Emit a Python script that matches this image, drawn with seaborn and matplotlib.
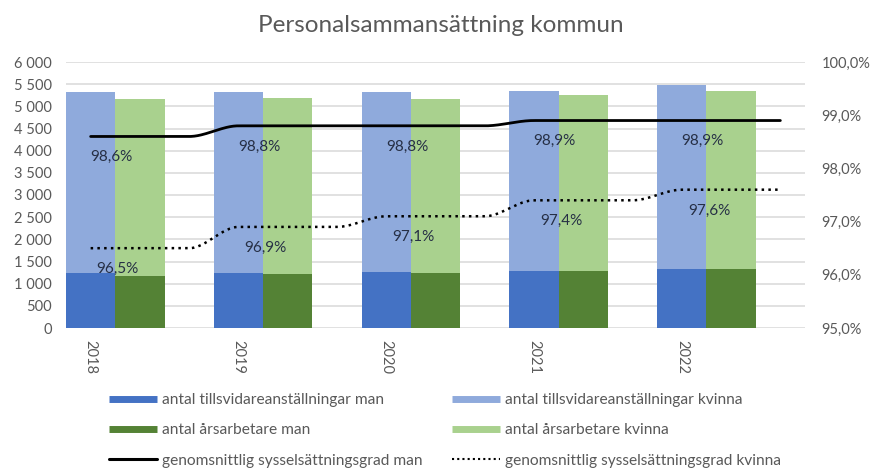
import numpy as np
import pandas as pd
import matplotlib
matplotlib.use("Agg")
import matplotlib.pyplot as plt
from matplotlib.lines import Line2D
from matplotlib.ticker import FuncFormatter, MultipleLocator
import seaborn as sns

# --- data -------------------------------------------------------------
years = ["2018", "2019", "2020", "2021", "2022"]
tillsvidare_man = [1240, 1250, 1255, 1295, 1340]
tillsvidare_kvinna = [4090, 4080, 4060, 4060, 4140]
arsarbetare_man = [1175, 1215, 1235, 1280, 1325]
arsarbetare_kvinna = [3990, 3980, 3940, 3970, 4020]
grad_man = [98.6, 98.8, 98.8, 98.9, 98.9]
grad_kvinna = [96.5, 96.9, 97.1, 97.4, 97.6]

labels = {
    "tv_man": "antal tillsvidareanställningar man",
    "tv_kv": "antal tillsvidareanställningar kvinna",
    "aa_man": "antal årsarbetare man",
    "aa_kv": "antal årsarbetare kvinna",
    "g_man": "genomsnittlig sysselsättningsgrad man",
    "g_kv": "genomsnittlig sysselsättningsgrad kvinna",
}

C_TV_MAN = "#4472C4"
C_TV_KV = "#8FAADC"
C_AA_MAN = "#548235"
C_AA_KV = "#A9D18E"
C_TEXT = "#595959"
C_LABEL = "#262F45"
C_GRID = "#D9D9D9"

sns.set_theme(style="white")
plt.rcParams["font.family"] = ["Lato", "DejaVu Sans"]

# each year occupies three slots: tillsvidare bar, årsarbetare bar, gap
n = len(years)
slot = 3
pos_tv = np.arange(n) * slot
pos_aa = pos_tv + 1

df = pd.DataFrame({
    "pos_tv": pos_tv,
    "pos_aa": pos_aa,
    "tv_man": tillsvidare_man,
    "tv_total": np.add(tillsvidare_man, tillsvidare_kvinna),
    "aa_man": arsarbetare_man,
    "aa_total": np.add(arsarbetare_man, arsarbetare_kvinna),
})

fig = plt.figure(figsize=(8.71, 4.72), dpi=100)
ax = fig.add_axes([66 / 871, 1 - 328 / 472, (805 - 66) / 871, (328 - 62) / 472])

common = dict(native_scale=True, width=1 / slot, saturation=1, linewidth=0,
              errorbar=None, ax=ax)
sns.barplot(data=df, x="pos_tv", y="tv_total", color=C_TV_KV, **common)
sns.barplot(data=df, x="pos_tv", y="tv_man", color=C_TV_MAN, **common)
sns.barplot(data=df, x="pos_aa", y="aa_total", color=C_AA_KV, **common)
sns.barplot(data=df, x="pos_aa", y="aa_man", color=C_AA_MAN, **common)

ax.set_xlim(-0.5, n * slot - 0.5)
ax.set_ylim(0, 6000)
ax.yaxis.set_major_locator(MultipleLocator(500))
ax.yaxis.set_major_formatter(FuncFormatter(lambda v, p: f"{int(v):,}".replace(",", " ")))
ax.set_xticks(pos_tv)
ax.set_xticklabels(years, rotation=-90, ha="center", va="top")
ax.set_xlabel("")
ax.set_ylabel("")
ax.grid(axis="y", color=C_GRID, linewidth=1.1)
ax.set_axisbelow(True)
for s in ax.spines.values():
    s.set_visible(False)
ax.tick_params(axis="both", length=0, colors=C_TEXT, labelsize=10.5)
ax.tick_params(axis="y", pad=10)
ax.tick_params(axis="x", pad=9)

# --- secondary axis: smoothed employment-rate lines -------------------
ax2 = ax.twinx()
ax2.set_position(ax.get_position())
ax2.set_ylim(95, 100)
ax2.yaxis.set_major_locator(MultipleLocator(1))
ax2.yaxis.set_major_formatter(FuncFormatter(lambda v, p: f"{v:.1f}%".replace(".", ",")))
for s in ax2.spines.values():
    s.set_visible(False)
ax2.tick_params(axis="y", length=0, colors=C_TEXT, labelsize=10.5, pad=12)
ax2.grid(False)


def smooth(xs, ys, steps=30):
    """Monotone cubic Hermite curve through every point (no overshoot)."""
    xs = np.asarray(xs, float)
    ys = np.asarray(ys, float)
    h = np.diff(xs)
    d = np.diff(ys) / h
    m = np.zeros_like(ys)
    for k in range(1, len(ys) - 1):
        if d[k - 1] * d[k] > 0:
            m[k] = 2 / (1 / d[k - 1] + 1 / d[k])
    m[0], m[-1] = d[0], d[-1]
    t = np.linspace(0, 1, steps)
    h00 = 2 * t ** 3 - 3 * t ** 2 + 1
    h10 = t ** 3 - 2 * t ** 2 + t
    h01 = -2 * t ** 3 + 3 * t ** 2
    h11 = t ** 3 - t ** 2
    outx, outy = [], []
    for k in range(len(xs) - 1):
        outx.extend(xs[k] + t * h[k])
        outy.extend(h00 * ys[k] + h10 * h[k] * m[k] + h01 * ys[k + 1] + h11 * h[k] * m[k + 1])
    return np.array(outx), np.array(outy)


line_x = np.arange(n * slot)
for vals, style in [(grad_man, "-"), (grad_kvinna, (0, (1, 1.7)))]:
    sx, sy = smooth(line_x, np.repeat(vals, slot))
    sns.lineplot(x=sx, y=sy, sort=False, color="black", ax=ax2,
                 linewidth=2.0 if style == "-" else 1.8, linestyle=style,
                 estimator=None)

# value labels below each year's point
for i in range(n):
    for vals, dx in [(grad_man, 0.42), (grad_kvinna, 0.55)]:
        ax2.annotate(f"{vals[i]:.1f}%".replace(".", ","),
                     xy=(pos_tv[i] + dx, vals[i]), xytext=(0, -15),
                     textcoords="offset points", ha="center", va="center",
                     fontsize=11, color=C_LABEL)

# --- title -------------------------------------------------------------
fig.text(441 / 871, 1 - 26 / 472, "Personalsammansättning kommun", ha="center",
         va="center", fontsize=17.5, color=C_TEXT)

# --- legend ------------------------------------------------------------
handles = [
    Line2D([], [], color=C_TV_MAN, linewidth=5, solid_capstyle="butt"),
    Line2D([], [], color=C_AA_MAN, linewidth=5, solid_capstyle="butt"),
    Line2D([], [], color="black", linewidth=2.2),
    Line2D([], [], color=C_TV_KV, linewidth=5, solid_capstyle="butt"),
    Line2D([], [], color=C_AA_KV, linewidth=5, solid_capstyle="butt"),
    Line2D([], [], color="black", linewidth=1.5, linestyle=(0, (1, 1.5))),
]
names = [labels["tv_man"], labels["aa_man"], labels["g_man"],
         labels["tv_kv"], labels["aa_kv"], labels["g_kv"]]
leg = fig.legend(handles, names, ncol=2, loc="upper left",
                 bbox_to_anchor=(109 / 871, 1 - 393 / 472), frameon=False,
                 fontsize=11.2, handlelength=3.1, handletextpad=0.32,
                 columnspacing=1.9, labelspacing=1.05, borderaxespad=0,
                 borderpad=0)
for t in leg.get_texts():
    t.set_color(C_TEXT)

fig.savefig("out.png", dpi=100, facecolor="white")
